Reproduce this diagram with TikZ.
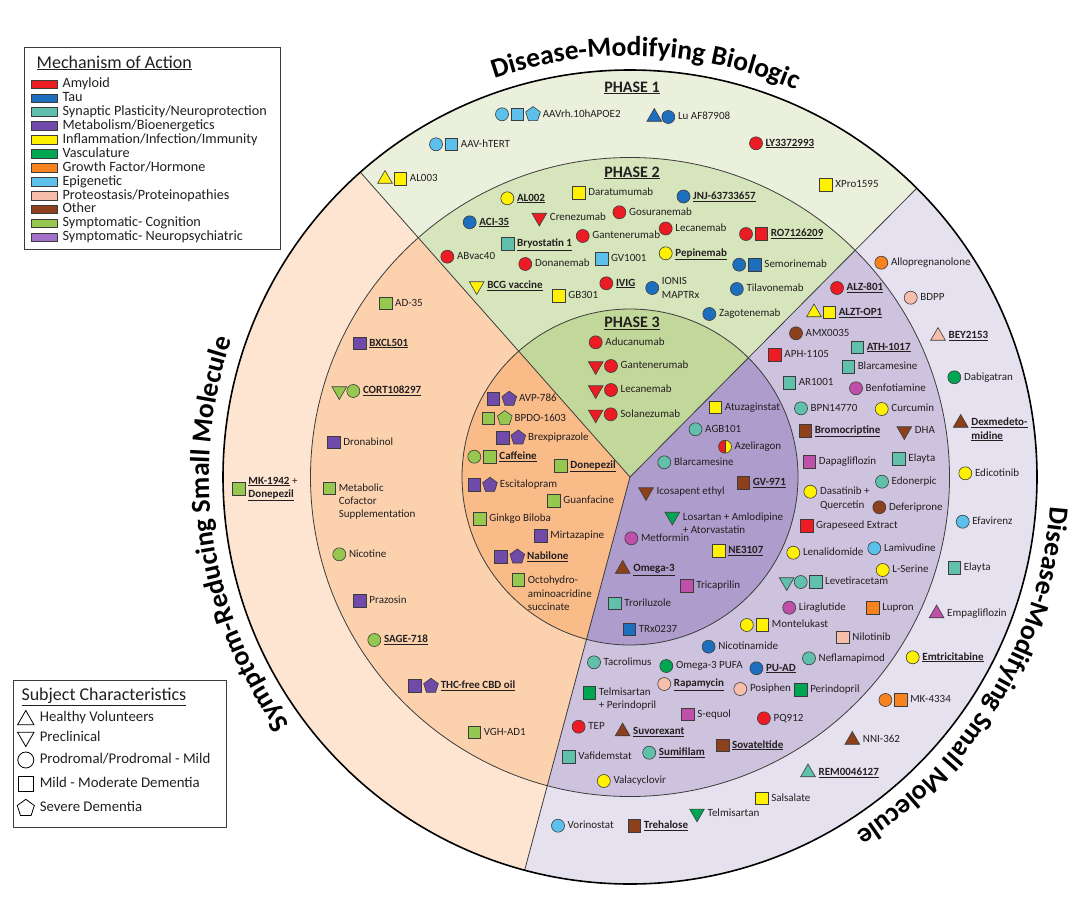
\documentclass[tikz,border=0pt]{standalone}
\usepackage{fontspec}
\setmainfont{Carlito}
\usetikzlibrary{positioning, shapes.geometric, decorations.text}

\definecolor{ink}{RGB}{35,31,32}
\definecolor{edge}{RGB}{60,60,60}
\definecolor{amy}{RGB}{237,28,36}
\definecolor{tau}{RGB}{30,110,190}
\definecolor{syn}{RGB}{96,192,172}
\definecolor{pur}{RGB}{112,74,168}
\definecolor{inf}{RGB}{255,241,0}
\definecolor{vas}{RGB}{0,166,81}
\definecolor{gro}{RGB}{247,130,32}
\definecolor{epi}{RGB}{92,192,235}
\definecolor{pro}{RGB}{248,190,172}
\definecolor{oth}{RGB}{140,64,28}
\definecolor{cog}{RGB}{150,200,80}
\definecolor{lav}{RGB}{162,112,200}
\definecolor{mgn}{RGB}{190,80,170}
\definecolor{bioA}{RGB}{234,240,220}
\definecolor{bioB}{RGB}{214,229,188}
\definecolor{bioC}{RGB}{194,215,154}
\definecolor{srA}{RGB}{253,229,210}
\definecolor{srB}{RGB}{252,210,174}
\definecolor{srC}{RGB}{249,187,136}
\definecolor{smA}{RGB}{229,225,238}
\definecolor{smB}{RGB}{205,195,222}
\definecolor{smC}{RGB}{174,156,204}

\newcommand{\lblfont}{\fontsize{11}{13.3}\selectfont}
\newcommand{\ttlfont}{\fontsize{27.5}{30}\selectfont\bfseries}
\newcommand{\ulb}[1]{\underline{\textbf{#1}}}

\begin{document}
\begin{tikzpicture}[x=1pt, y=-1pt, node distance=2pt,
  agent/.style={draw=edge, line width=0.6pt, inner sep=0pt, outer sep=0pt},
  mdot/.style={agent, circle, minimum size=13pt, fill=#1},
  mbox/.style={agent, rectangle, minimum size=12.5pt, fill=#1},
  mtri/.style={agent, regular polygon, regular polygon sides=3, minimum size=17pt, fill=#1},
  mitri/.style={mtri=#1, shape border rotate=180},
  mpent/.style={agent, regular polygon, regular polygon sides=5, minimum size=15.5pt, fill=#1},
  lbl/.style={font=\lblfont, text=ink, inner sep=1pt, text height=7.5pt, text depth=2pt},
  lbls/.style={font=\lblfont, text=ink, inner sep=1pt, align=left},
  ring/.style={draw=edge, line width=0.8pt},
  phase/.style={font=\fontsize{16}{16}\selectfont\bfseries, text=ink, anchor=base},
  swatch/.style={draw=edge, line width=0.6pt, minimum width=26.5pt, minimum height=8.7pt, inner sep=0pt, fill=#1},
  leg/.style={font=\fontsize{14.2}{14}\selectfont, text=ink, inner sep=0pt, text height=10pt, text depth=3pt},
  subj/.style={draw=black, fill=white, line width=0.8pt, inner sep=0pt},
  subjtxt/.style={font=\fontsize{14.8}{15}\selectfont, text=ink, inner sep=0pt, anchor=west, text height=10pt, text depth=3pt},
  arctitle/.style={decorate, decoration={text along path, text align=center, text={|\ttlfont|#1}}},
]
\useasboundingbox (0,0) rectangle (1075,902);
\fill[white] (0,0) rectangle (1075,902);

% sectors and rings
\coordinate (c) at (630,477);
\fill[bioA] (c) -- ++(-45.2:407) arc[start angle=-45.2, end angle=-131.5, radius=407] -- cycle;
\fill[srA] (c) -- ++(-131.5:407) arc[start angle=-131.5, end angle=-255, radius=407] -- cycle;
\fill[smA] (c) -- ++(105:407) arc[start angle=105, end angle=-45.2, radius=407] -- cycle;
\fill[bioB] (c) -- ++(-45.2:319.5) arc[start angle=-45.2, end angle=-131.5, radius=319.5] -- cycle;
\fill[srB] (c) -- ++(-131.5:319.5) arc[start angle=-131.5, end angle=-255, radius=319.5] -- cycle;
\fill[smB] (c) -- ++(105:319.5) arc[start angle=105, end angle=-45.2, radius=319.5] -- cycle;
\fill[bioC] (c) -- ++(-45.2:168) arc[start angle=-45.2, end angle=-131.5, radius=168] -- cycle;
\fill[srC] (c) -- ++(-131.5:168) arc[start angle=-131.5, end angle=-255, radius=168] -- cycle;
\fill[smC] (c) -- ++(105:168) arc[start angle=105, end angle=-45.2, radius=168] -- cycle;
\draw[ring] (c) circle[radius=319.5] (c) circle[radius=168];
\draw[ring] (c) -- ++(-45.2:407) (c) -- ++(-131.5:407) (c) -- ++(105:407);
\draw[black, line width=1.6pt] (c) circle[radius=407];

% titles round the rim
\path[arctitle=Disease-Modifying Biologic] (c) ++(-117.8:421) arc[start angle=-117.8, end angle=-57.8, radius=421];
\path[arctitle=Symptom-Reducing Small Molecule] (c) ++(-228.5:421) arc[start angle=-228.5, end angle=-148.5, radius=421];
\path[arctitle=Disease-Modifying Small Molecule] (c) ++(-9.2:421) arc[start angle=-9.2, end angle=70.8, radius=421];

\node[phase] (ph1) at (632,92) {\underline{PHASE 1}};
\node[phase] (ph2) at (632,177) {\underline{PHASE 2}};
\node[phase] (ph3) at (632,327.3) {\underline{PHASE 3}};

% phase 1
\node[mdot=epi] (aav10) at (502,114.3) {}; \node[mbox=epi] (aav10-2) at ([xshift=15.5pt]aav10) {}; \node[mpent=epi] (aav10-3) at ([xshift=15.5pt]aav10-2) {};
\node[lbl, right=of aav10-3] (aav10-t) {AAVrh.10hAPOE2};
\node[mtri=tau] (luaf) at (654.3,117) {}; \node[mdot=tau] (luaf-2) at ([xshift=14pt]luaf) {}; \node[lbl, right=of luaf-2] (luaf-t) {Lu AF87908};
\node[mdot=epi] (aavh) at (436,144.3) {}; \node[mbox=epi] (aavh-2) at ([xshift=15.5pt]aavh) {}; \node[lbl, right=of aavh-2] (aavh-t) {AAV-hTERT};
\node[mdot=amy] (ly33) at (756,143.3) {}; \node[lbl, right=of ly33] (ly33-t) {\ulb{LY3372993}};
\node[mtri=inf] (al003) at (385,179) {}; \node[mbox=inf] (al003-2) at ([xshift=15.5pt]al003) {}; \node[lbl, right=of al003-2] (al003-t) {AL003};
\node[mbox=inf] (xpro) at (826,185) {}; \node[lbl, right=of xpro] (xpro-t) {XPro1595};

% phase 2
\node[mdot=inf] (al002) at (507.3,198.3) {}; \node[lbl, right=of al002] (al002-t) {\ulb{AL002}};
\node[mbox=inf] (dara) at (579,192.7) {}; \node[lbl, right=of dara] (dara-t) {Daratumumab};
\node[mdot=tau] (jnj) at (683.5,196.5) {}; \node[lbl, right=of jnj] (jnj-t) {\ulb{JNJ-63733657}};
\node[mdot=tau] (aci) at (469.7,222.3) {}; \node[lbl, right=of aci] (aci-t) {\ulb{ACI-35}};
\node[mitri=amy] (cren) at (539.3,217.5) {}; \node[lbl, right=4.5pt of cren] (cren-t) {Crenezumab};
\node[mdot=amy] (gosu) at (619.4,212.3) {}; \node[lbl, right=of gosu] (gosu-t) {Gosuranemab};
\node[mdot=amy] (gant2) at (582.7,236) {}; \node[lbl, right=of gant2] (gant2-t) {Gantenerumab};
\node[mdot=amy] (leca2) at (665.7,228.5) {}; \node[lbl, right=of leca2] (leca2-t) {Lecanemab};
\node[mdot=amy] (ro71) at (746,234) {}; \node[mbox=amy] (ro71-2) at ([xshift=15.3pt]ro71) {}; \node[lbl, right=of ro71-2] (ro71-t) {\ulb{RO7126209}};
\node[mbox=syn] (bryo) at (507.7,244) {}; \node[lbl, right=of bryo] (bryo-t) {\ulb{Bryostatin 1}};
\node[mdot=amy] (abvac) at (447.3,256.7) {}; \node[lbl, right=of abvac] (abvac-t) {ABvac40};
\node[mdot=amy] (dona) at (525.3,264) {}; \node[lbl, right=of dona] (dona-t) {Donanemab};
\node[mbox=epi] (gv10) at (601.6,258.8) {}; \node[lbl, right=of gv10] (gv10-t) {GV1001};
\node[mdot=inf] (pepi) at (665.7,253.3) {}; \node[lbl, right=of pepi] (pepi-t) {\ulb{Pepinemab}};
\node[mdot=tau] (semo) at (739.2,264.7) {}; \node[mbox=tau] (semo-2) at ([xshift=15.8pt]semo) {}; \node[lbl, right=of semo-2] (semo-t) {Semorinemab};
\node[mitri=inf] (bcg) at (476.7,286) {}; \node[lbl, right=4.5pt of bcg] (bcg-t) {\ulb{BCG vaccine}};
\node[mdot=amy] (ivig) at (606.3,283.3) {}; \node[lbl, right=of ivig] (ivig-t) {\ulb{IVIG}};
\node[mbox=inf] (gb30) at (559,296) {}; \node[lbl, right=of gb30] (gb30-t) {GB301};
\node[mdot=tau] (ionis) at (652.2,288) {}; \node[lbls, right=of ionis] (ionis-t) {IONIS\\MAPTRx};
\node[mdot=tau] (tila) at (736.8,289) {}; \node[lbl, right=of tila] (tila-t) {Tilavonemab};
\node[mdot=tau] (zago) at (709.3,314) {}; \node[lbl, right=of zago] (zago-t) {Zagotenemab};

% phase 3
\node[mdot=amy] (adu) at (595.7,342.3) {}; \node[lbl, right=of adu] (adu-t) {Aducanumab};
\node[mitri=amy] (gant3) at (595.7,366) {}; \node[mdot=amy] (gant3-2) at ([xshift=15.3pt]gant3) {}; \node[lbl, right=of gant3-2] (gant3-t) {Gantenerumab};
\node[mitri=amy] (leca3) at (595.7,390) {}; \node[mdot=amy] (leca3-2) at ([xshift=15.3pt]leca3) {}; \node[lbl, right=of leca3-2] (leca3-t) {Lecanemab};
\node[mitri=amy] (sola) at (595.7,414.3) {}; \node[mdot=amy] (sola-2) at ([xshift=15pt]sola) {}; \node[lbl, right=of sola-2] (sola-t) {Solanezumab};

% symptom-reducing, outer ring
\node[mbox=cog] (mk19) at (239,489) {}; \node[lbls, right=of mk19] (mk19-t) {\ulb{MK-1942} +\\\ulb{Donepezil}};

% symptom-reducing, middle ring
\node[mbox=cog] (ad35) at (385.7,303.3) {}; \node[lbl, right=of ad35] (ad35-t) {AD-35};
\node[mbox=pur] (bxcl) at (360,343.3) {}; \node[lbl, right=of bxcl] (bxcl-t) {\ulb{BXCL501}};
\node[mitri=cog] (cort) at (339.3,391) {}; \node[mdot=cog] (cort-2) at ([xshift=14pt]cort) {}; \node[lbl, right=of cort-2] (cort-t) {\ulb{CORT108297}};
\node[mbox=pur] (drona) at (334,442.3) {}; \node[lbl, right=of drona] (drona-t) {Dronabinol};
\node[mbox=cog] (metab) at (329.3,488.3) {}; \node[lbls, right=of metab, yshift=-13.3pt] (metab-t) {Metabolic\\Cofactor\\Supplementation};
\node[mdot=cog] (nico) at (339.3,554.3) {}; \node[lbl, right=of nico] (nico-t) {Nicotine};
\node[mbox=pur] (praz) at (360,600.7) {}; \node[lbl, right=of praz] (praz-t) {Prazosin};
\node[mdot=cog] (sage) at (374.3,640) {}; \node[lbl, right=of sage] (sage-t) {\ulb{SAGE-718}};
\node[mbox=pur] (thc) at (415,686) {}; \node[mpent=pur] (thc-2) at ([xshift=16pt]thc) {}; \node[lbl, right=of thc-2] (thc-t) {\ulb{THC-free CBD oil}};
\node[mbox=cog] (vgh) at (474.3,732.3) {}; \node[lbl, right=of vgh] (vgh-t) {VGH-AD1};

% symptom-reducing, centre
\node[mbox=pur] (avp) at (493.3,399) {}; \node[mpent=pur] (avp-2) at ([xshift=16pt]avp) {}; \node[lbl, right=of avp-2] (avp-t) {AVP-786};
\node[mbox=cog] (bpdo) at (488.3,418.3) {}; \node[mpent=cog] (bpdo-2) at ([xshift=16.5pt]bpdo) {}; \node[lbl, right=of bpdo-2] (bpdo-t) {BPDO-1603};
\node[mbox=pur] (brex) at (502.7,437.7) {}; \node[mpent=pur] (brex-2) at ([xshift=15.6pt]brex) {}; \node[lbl, right=of brex-2] (brex-t) {Brexpiprazole};
\node[mdot=cog] (caff) at (474.3,456.7) {}; \node[mbox=cog] (caff-2) at ([xshift=15.7pt]caff) {}; \node[lbl, right=of caff-2] (caff-t) {\ulb{Caffeine}};
\node[mbox=cog] (done) at (561,465.7) {}; \node[lbl, right=of done] (done-t) {\ulb{Donepezil}};
\node[mbox=pur] (esci) at (474.3,485) {}; \node[mpent=pur] (esci-2) at ([xshift=15.7pt]esci) {}; \node[lbl, right=of esci-2] (esci-t) {Escitalopram};
\node[mbox=cog] (guan) at (554,500.7) {}; \node[lbl, right=of guan] (guan-t) {Guanfacine};
\node[mbox=cog] (gink) at (480,519) {}; \node[lbl, right=of gink] (gink-t) {Ginkgo Biloba};
\node[mbox=pur] (mirt) at (541,536) {}; \node[lbl, right=of mirt] (mirt-t) {Mirtazapine};
\node[mbox=pur] (nabi) at (501,556.7) {}; \node[mpent=pur] (nabi-2) at ([xshift=16.3pt]nabi) {}; \node[lbl, right=of nabi-2] (nabi-t) {\ulb{Nabilone}};
\node[mbox=cog] (octo) at (518.3,580) {}; \node[lbls, right=of octo, yshift=-13.3pt] (octo-t) {Octohydro-\\aminoacridine\\succinate};

% small molecule, centre
\node[mbox=inf] (atuz) at (715.5,407.3) {}; \node[lbl, right=of atuz] (atuz-t) {Atuzaginstat};
\node[mdot=syn] (agb) at (695.5,429.3) {}; \node[lbl, right=of agb] (agb-t) {AGB101};
\node[mdot=inf, path picture={\fill[amy] (path picture bounding box.north west) rectangle (path picture bounding box.south); \draw[edge, line width=0.6pt] (path picture bounding box.north) -- (path picture bounding box.south);}] (azel) at (725,446.7) {};
\node[lbl, right=of azel] (azel-t) {Azeliragon};
\node[mdot=syn] (blar3) at (664.3,462.3) {}; \node[lbl, right=of blar3] (blar3-t) {Blarcamesine};
\node[mbox=oth] (gv97) at (743.3,482.7) {}; \node[lbl, right=of gv97] (gv97-t) {\ulb{GV-971}};
\node[mitri=oth] (icos) at (646,492) {}; \node[lbl, right=4.5pt of icos] (icos-t) {Icosapent ethyl};
\node[mitri=vas] (losa) at (672.3,516.5) {}; \node[lbls, right=4.5pt of losa, yshift=-6.6pt] (losa-t) {Losartan + Amlodipine\\+ Atorvastatin};
\node[mdot=mgn] (metf) at (631.3,538.3) {}; \node[lbl, right=of metf] (metf-t) {Metformin};
\node[mbox=inf] (ne31) at (719,550.7) {}; \node[lbl, right=of ne31] (ne31-t) {\ulb{NE3107}};
\node[mtri=oth] (omeg) at (622.7,569) {}; \node[lbl, right=4.5pt of omeg] (omeg-t) {\ulb{Omega-3}};
\node[mbox=mgn] (tric) at (687,585.8) {}; \node[lbl, right=of tric] (tric-t) {Tricaprilin};
\node[mbox=syn] (tror) at (615,603.3) {}; \node[lbl, right=of tror] (tror-t) {Troriluzole};
\node[mbox=tau] (trx) at (629.3,629.3) {}; \node[lbl, right=of trx] (trx-t) {TRx0237};

% small molecule, middle ring
\node[mdot=amy] (alz8) at (837,288) {}; \node[lbl, right=of alz8] (alz8-t) {\ulb{ALZ-801}};
\node[mtri=inf] (alzt) at (814,312.5) {}; \node[mbox=inf] (alzt-2) at ([xshift=15.3pt]alzt) {}; \node[lbl, right=of alzt-2] (alzt-t) {\ulb{ALZT-OP1}};
\node[mdot=oth] (amx) at (796,333.3) {}; \node[lbl, right=of amx] (amx-t) {AMX0035};
\node[mbox=syn] (ath) at (857.3,347.3) {}; \node[lbl, right=of ath] (ath-t) {\ulb{ATH-1017}};
\node[mbox=amy] (aph) at (775,355) {}; \node[lbl, right=of aph] (aph-t) {APH-1105};
\node[mbox=syn] (blar2) at (848.3,366.7) {}; \node[lbl, right=of blar2] (blar2-t) {Blarcamesine};
\node[mbox=syn] (ar10) at (789.3,382.7) {}; \node[lbl, right=of ar10] (ar10-t) {AR1001};
\node[mdot=mgn] (benf) at (856,388.3) {}; \node[lbl, right=of benf] (benf-t) {Benfotiamine};
\node[mdot=syn] (bpn) at (801,408.3) {}; \node[lbl, right=of bpn] (bpn-t) {BPN14770};
\node[mdot=inf] (curc) at (881.7,409) {}; \node[lbl, right=of curc] (curc-t) {Curcumin};
\node[mbox=oth] (brom) at (805.3,430.7) {}; \node[lbl, right=of brom] (brom-t) {\ulb{Bromocriptine}};
\node[mitri=oth] (dha) at (904.3,431) {}; \node[lbl, right=4.5pt of dha] (dha-t) {DHA};
\node[mbox=mgn] (dapa) at (809.3,461.7) {}; \node[lbl, right=of dapa] (dapa-t) {Dapagliflozin};
\node[mbox=syn] (elay2) at (899,459) {}; \node[lbl, right=of elay2] (elay2-t) {Elayta};
\node[mdot=syn] (edon) at (882,481.7) {}; \node[lbl, right=of edon] (edon-t) {Edonerpic};
\node[mdot=inf] (dasa) at (810.3,491.7) {}; \node[lbls, right=of dasa, yshift=-6.6pt] (dasa-t) {Dasatinib +\\Quercetin};
\node[mdot=oth] (defe) at (879.3,507.3) {}; \node[lbl, right=of defe] (defe-t) {Deferiprone};
\node[mbox=amy] (grap) at (806.7,525.7) {}; \node[lbl, right=of grap] (grap-t) {Grapeseed Extract};
\node[mdot=inf] (lena) at (793.3,552.7) {}; \node[lbl, right=of lena] (lena-t) {Lenalidomide};
\node[mdot=epi] (lami) at (874.3,548.3) {}; \node[lbl, right=of lami] (lami-t) {Lamivudine};
\node[mdot=inf] (lser) at (882.7,570) {}; \node[lbl, right=of lser] (lser-t) {L-Serine};
\node[mitri=syn] (leve) at (786.7,582) {}; \node[mdot=syn] (leve-2) at ([xshift=14pt]leve) {}; \node[mbox=syn] (leve-3) at ([xshift=15pt]leve-2) {}; \node[lbl, right=of leve-3] (leve-t) {Levetiracetam};
\node[mdot=mgn] (lira) at (789.2,607.7) {}; \node[lbl, right=of lira] (lira-t) {Liraglutide};
\node[mbox=gro] (lupr) at (872.8,607.7) {}; \node[lbl, right=of lupr] (lupr-t) {Lupron};
\node[mdot=inf] (mont) at (746.8,625) {}; \node[mbox=inf] (mont-2) at ([xshift=15.7pt]mont) {}; \node[lbl, right=of mont-2] (mont-t) {Montelukast};
\node[mbox=pro] (nilo) at (843,637.3) {}; \node[lbl, right=of nilo] (nilo-t) {Nilotinib};
\node[mdot=tau] (nicm) at (708.6,646.7) {}; \node[lbl, right=of nicm] (nicm-t) {Nicotinamide};
\node[mdot=syn] (tacr) at (594,662.3) {}; \node[lbl, right=of tacr] (tacr-t) {Tacrolimus};
\node[mdot=vas] (om3p) at (666.3,666) {}; \node[lbl, right=of om3p] (om3p-t) {Omega-3 PUFA};
\node[mdot=tau] (puad) at (756.4,668.3) {}; \node[lbl, right=of puad] (puad-t) {\ulb{PU-AD}};
\node[mdot=syn] (nefl) at (809,658.3) {}; \node[lbl, right=of nefl] (nefl-t) {Neflamapimod};
\node[mdot=pro] (rapa) at (664.2,684) {}; \node[lbl, right=of rapa] (rapa-t) {\ulb{Rapamycin}};
\node[mdot=pro] (posi) at (740.3,689) {}; \node[lbl, right=of posi] (posi-t) {Posiphen};
\node[mbox=vas] (peri) at (800.8,690) {}; \node[lbl, right=of peri] (peri-t) {Perindopril};
\node[mbox=vas] (telp) at (589.5,692.7) {}; \node[lbls, right=of telp, yshift=-6.6pt] (telp-t) {Telmisartan\\+ Perindopril};
\node[mbox=mgn] (sequ) at (687.8,714.3) {}; \node[lbl, right=of sequ] (sequ-t) {S-equol};
\node[mdot=amy] (pq91) at (763.9,718.3) {}; \node[lbl, right=of pq91] (pq91-t) {PQ912};
\node[mdot=amy] (tep) at (578.6,726.7) {}; \node[lbl, right=of tep] (tep-t) {TEP};
\node[mtri=oth] (suvo) at (622.6,731.5) {}; \node[lbl, right=4.5pt of suvo] (suvo-t) {\ulb{Suvorexant}};
\node[mbox=oth] (sova) at (722.6,745.3) {}; \node[lbl, right=of sova] (sova-t) {\ulb{Sovateltide}};
\node[mbox=syn] (vafi) at (569,756.7) {}; \node[lbl, right=of vafi] (vafi-t) {Vafidemstat};
\node[mdot=syn] (sumi) at (649.2,752.7) {}; \node[lbl, right=of sumi] (sumi-t) {\ulb{Sumifilam}};
\node[mdot=inf] (vala) at (603.8,781) {}; \node[lbl, right=of vala] (vala-t) {Valacyclovir};

% small molecule, outer ring
\node[mdot=gro] (allo) at (881.3,262.7) {}; \node[lbl, right=of allo] (allo-t) {Allopregnanolone};
\node[mdot=pro] (bdpp) at (910.7,297.7) {}; \node[lbl, right=of bdpp] (bdpp-t) {BDPP};
\node[mtri=pro] (bey) at (938,336) {}; \node[lbl, right=4.5pt of bey] (bey-t) {\ulb{BEY2153}};
\node[mdot=vas] (dabi) at (954.3,377.3) {}; \node[lbl, right=of dabi] (dabi-t) {Dabigatran};
\node[mtri=oth] (dexm) at (960.7,423) {}; \node[lbls, right=4.5pt of dexm, yshift=-6.6pt] (dexm-t) {\ulb{Dexmedeto-}\\\ulb{midine}};
\node[mdot=inf] (edic) at (965.3,473.3) {}; \node[lbl, right=of edic] (edic-t) {Edicotinib};
\node[mdot=epi] (efav) at (962.7,521.7) {}; \node[lbl, right=of efav] (efav-t) {Efavirenz};
\node[mbox=syn] (elay1) at (954.3,567.7) {}; \node[lbl, right=of elay1] (elay1-t) {Elayta};
\node[mtri=mgn] (empa) at (936.6,613.5) {}; \node[lbl, right=4.5pt of empa] (empa-t) {Empagliflozin};
\node[mdot=inf] (emtr) at (912.7,657.3) {}; \node[lbl, right=of emtr] (emtr-t) {\ulb{Emtricitabine}};
\node[mdot=gro] (mk43) at (885.4,700) {}; \node[mbox=gro] (mk43-2) at ([xshift=15.4pt]mk43) {}; \node[lbl, right=of mk43-2] (mk43-t) {MK-4334};
\node[mtri=oth] (nni) at (852.3,740) {}; \node[lbl, right=4.5pt of nni] (nni-t) {NNI-362};
\node[mtri=syn] (rem) at (808,772.5) {}; \node[lbl, right=4.5pt of rem] (rem-t) {\ulb{REM0046127}};
\node[mbox=inf] (sals) at (761.8,798.3) {}; \node[lbl, right=of sals] (sals-t) {Salsalate};
\node[mitri=vas] (telm) at (697,813.3) {}; \node[lbl, right=4.5pt of telm] (telm-t) {Telmisartan};
\node[mdot=epi] (vori) at (558,825.7) {}; \node[lbl, right=of vori] (vori-t) {Vorinostat};
\node[mbox=oth] (treh) at (634.5,825.7) {}; \node[lbl, right=of treh] (treh-t) {\ulb{Trehalose}};

% legend: mechanism of action
\node[draw=edge, line width=1pt, minimum width=255.8pt, minimum height=202pt, anchor=north west, inner sep=0pt] (moa) at (23.8,47.3) {};
\node[font=\fontsize{18}{18}\selectfont, text=ink, anchor=base west, inner sep=0pt] (moa-title) at (36.5,68) {\underline{Mechanism of Action}};
\foreach \col/\txt [count=\i] in {amy/Amyloid, tau/Tau, syn/{Synaptic Plasticity/Neuroprotection}, pur/{Metabolism/Bioenergetics}, inf/{Inflammation/Infection/Immunity}, vas/Vasculature, gro/{Growth Factor/Hormone}, epi/Epigenetic, pro/{Proteostasis/Proteinopathies}, oth/Other, cog/{Symptomatic- Cognition}, lav/{Symptomatic- Neuropsychiatric}} {
  \node[swatch=\col] (sw-\i) at (44.3,{84.3+13.9*(\i-1)}) {};
  \node[leg, right=4.5pt of sw-\i] (leg-\i) {\txt};
}

% legend: subject characteristics
\node[draw=edge, line width=1pt, minimum width=212.8pt, minimum height=146.7pt, anchor=north west, inner sep=0pt] (sc) at (12.7,680) {};
\node[font=\fontsize{18}{18}\selectfont, text=ink, anchor=base west, inner sep=0pt] (sc-title) at (21.3,700.8) {\underline{Subject Characteristics}};
\node[subj, regular polygon, regular polygon sides=3, minimum size=19pt] (hv) at (25.8,720) {};
\node[subj, regular polygon, regular polygon sides=3, minimum size=19pt, shape border rotate=180] (pre) at (25.8,737) {};
\node[subj, circle, minimum size=16pt] (pro-m) at (25.8,760) {};
\node[subj, rectangle, minimum size=15.5pt] (mmd) at (25.8,784) {};
\node[subj, regular polygon, regular polygon sides=5, minimum size=18pt] (sev) at (25.8,808.3) {};
\node[subjtxt] (hv-t) at (39.6,718.3) {Healthy Volunteers};
\node[subjtxt] (pre-t) at (39.6,738.3) {Preclinical};
\node[subjtxt] (pro-t) at (39.6,760) {Prodromal/Prodromal - Mild};
\node[subjtxt] (mmd-t) at (39.6,784) {Mild - Moderate Dementia};
\node[subjtxt] (sev-t) at (39.6,808.3) {Severe Dementia};
\end{tikzpicture}
\end{document}
